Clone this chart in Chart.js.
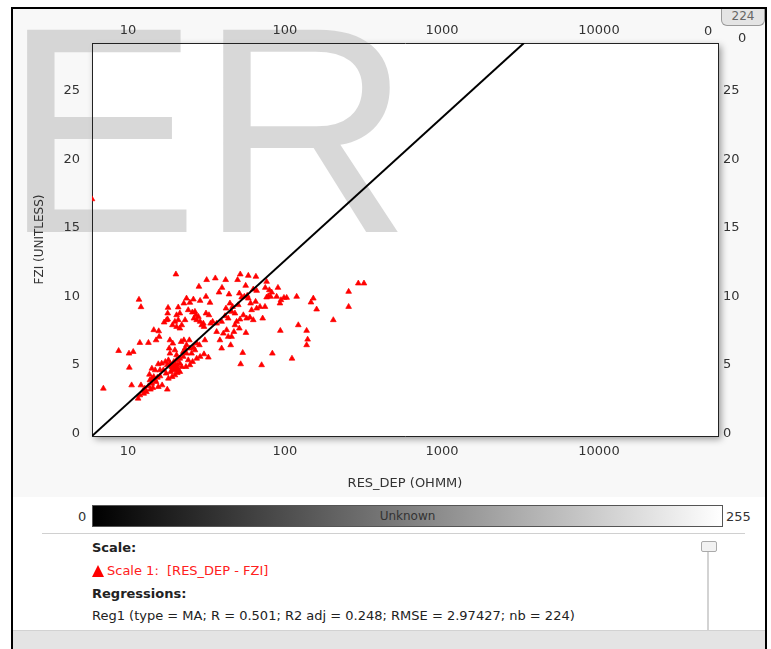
<!DOCTYPE html>
<html>
<head>
<meta charset="utf-8">
<title>RES_DEP - FZI</title>
<script src="https://cdn.jsdelivr.net/npm/chart.js@4/dist/chart.umd.min.js"></script>
<style>
  html, body { margin: 0; padding: 0; }
  body { width: 771px; height: 649px; position: relative; overflow: hidden; background: #fff;
         font-family: "DejaVu Sans", Verdana, sans-serif; color: #222; }
  #chartBox { position: absolute; left: 0; top: 0; width: 771px; height: 497px; }
  #frame { position: absolute; left: 11px; top: 7px; width: 756px; height: 660px; box-sizing: border-box;
           border: 2px solid #000; border-bottom: none; pointer-events: none; }
  .abs { position: absolute; white-space: nowrap; }
  #countTab { left: 721px; top: 8px; width: 44px; height: 18px; box-sizing: border-box; border: 1px solid #9a9a9a;
              border-top: none; border-radius: 0 0 6px 6px; background: #e4e4e4; color: #666; font-size: 12px;
              text-align: center; line-height: 17px; }
  #colorBar { left: 92px; top: 505px; width: 631px; height: 22px; box-sizing: border-box; border: 1px solid #555;
              background: linear-gradient(to right, #000 0%, #fff 100%); color: #333; font-size: 12px;
              text-align: center; line-height: 20px; }
  #sep { left: 42px; top: 533px; width: 703px; height: 1px; background: #d0d0d0; }
  #sliderKnob { left: 701px; top: 541px; width: 16px; height: 11px; box-sizing: border-box; border: 1px solid #aaa;
                border-radius: 2px; background: #f2f2f2; }
  #sliderTrack { left: 707px; top: 552px; width: 2px; height: 78px; background: #d3d3d3; }
  #bottomBand { left: 13px; top: 630px; width: 753px; height: 30px; background: #e4e4e4; border-top: 1px solid #d2d2d2; }
  .head { font-weight: bold; font-size: 13px; color: #222; }
  .tri { width: 0; height: 0; border-left: 6px solid transparent; border-right: 6px solid transparent;
         border-bottom: 12px solid #ff0000; }
</style>
</head>
<body>
<div id="chartBox"><canvas id="chart" width="771" height="497"></canvas></div>

<div class="abs" id="countTab">224</div>
<div class="abs" style="left:704px; top:23px; font-size:13px; color:#333;">0</div>
<div class="abs" style="left:738px; top:30px; font-size:13px; color:#333;">0</div>

<div class="abs" style="left:78px; top:509px; font-size:13px; color:#333;">0</div>
<div class="abs" id="colorBar">Unknown</div>
<div class="abs" style="left:726px; top:509px; font-size:13px; color:#333;">255</div>
<div class="abs" id="sep"></div>
<div class="abs" id="sliderKnob"></div>
<div class="abs" id="sliderTrack"></div>

<div class="abs head" style="left:92px; top:540px;">Scale:</div>
<div class="abs tri" style="left:92px; top:565px;"></div>
<div class="abs" style="left:107px; top:563px; font-size:13px; color:#ff2020;">Scale 1:&nbsp; [RES_DEP - FZI]</div>
<div class="abs head" style="left:92px; top:586px;">Regressions:</div>
<div class="abs" style="left:92px; top:608px; font-size:13px; color:#222;">Reg1 (type = MA; R = 0.501; R2 adj = 0.248; RMSE = 2.97427; nb = 224)</div>
<div class="abs" id="bottomBand"></div>

<div id="frame"></div>

<script>
// RES_DEP (ohmm) vs FZI samples
const resDep = [
  6.97, 8.72, 10.15, 10.8, 10.2, 11.75, 12.1, 11.9, 10.55, 12.1,
  11.6, 11.9, 12.6, 12.8, 12.5, 13.5, 14.6, 15.7, 15.8, 15.1,
  17.0, 17.9, 14.2, 14.9, 15.6, 16.4, 17.3, 13.7, 14.2, 14.9,
  15.4, 16.0, 17.5, 13.5, 13.9, 14.4, 13.1, 16.5, 17.8, 14.2,
  15.1, 14.6, 16.8, 16.0, 13.8, 15.6, 20.2, 18.0, 17.9, 20.9,
  21.4, 20.4, 20.9, 20.4, 21.4, 19.2, 17.6, 19.9, 18.5, 19.3,
  19.9, 21.8, 22.7, 18.3, 18.5, 18.1, 19.0, 20.4, 21.4, 22.5,
  23.4, 19.4, 19.7, 20.1, 19.3, 19.9, 20.4, 20.9, 18.7, 18.1,
  19.1, 19.9, 20.6, 21.4, 17.8, 18.5, 22.0, 21.4, 19.6, 20.4,
  22.7, 23.6, 24.8, 26.1, 28.8, 31.4, 33.3, 24.2, 25.7, 26.7,
  28.1, 28.8, 30.2, 31.4, 32.8, 34.6, 28.3, 31.7, 24.6, 26.1,
  27.4, 24.2, 24.8, 25.8, 27.4, 28.8, 30.5, 32.5, 23.6, 25.4,
  26.7, 28.5, 23.1, 29.5, 27.4, 26.3, 30.5, 33.6, 30.9, 23.6,
  22.5, 24.8, 27.1, 23.1, 22.0, 36.0, 41.9, 49.9, 51.9, 58.4,
  38.0, 39.7, 44.0, 56.2, 51.2, 57.5, 36.7, 39.5, 41.5, 43.5,
  45.7, 48.0, 49.2, 51.7, 54.3, 57.0, 56.4, 59.8, 61.3, 42.1,
  44.6, 46.4, 50.4, 53.0, 55.1, 58.4, 60.4, 38.5, 40.5, 43.5,
  45.7, 47.3, 42.5, 45.1, 39.5, 53.8, 52.2, 48.0, 51.2, 36.7,
  65.3, 62.8, 66.0, 76.4, 74.9, 79.5, 82.3, 78.3, 76.4, 81.0,
  90.2, 88.5, 94.3, 98.5, 92.9, 102.5, 65.0, 66.0, 69.3, 74.6,
  62.8, 72.1, 71.0, 83.1, 110.8, 93.4, 121.6, 137.4, 139.4, 137.4,
  118.7, 151.5, 146.4, 159.1, 203.2, 254.4, 254.4, 293.2, 318.6, 5.9,
  19.4, 19.1, 19.8, 20.6
];
const fzi = [
  3.27, 6.02, 5.83, 5.95, 4.80, 9.76, 9.22, 6.61, 3.51, 3.51,
  2.54, 2.78, 2.90, 3.27, 3.10, 6.61, 7.54, 7.46, 7.05, 6.80,
  8.10, 8.32, 4.73, 4.61, 5.05, 5.10, 5.22, 4.29, 4.00, 3.88,
  4.07, 4.17, 4.37, 3.44, 3.20, 3.32, 3.02, 3.51, 3.20, 3.63,
  3.76, 4.12, 4.61, 4.61, 3.88, 3.39, 11.61, 9.17, 8.76, 9.20,
  8.76, 8.63, 8.27, 7.78, 7.66, 7.90, 8.27, 8.15, 6.80, 6.56,
  6.07, 6.68, 6.80, 6.20, 5.83, 5.34, 4.85, 5.34, 5.10, 5.59,
  4.85, 4.98, 4.85, 4.90, 4.66, 4.73, 4.80, 4.61, 4.49, 4.00,
  4.12, 4.24, 4.41, 4.49, 4.98, 5.10, 4.85, 5.46, 5.22, 5.71,
  9.49, 9.85, 9.54, 9.78, 9.68, 9.98, 9.54, 9.00, 8.83, 8.88,
  8.51, 8.15, 8.02, 8.76, 8.63, 8.15, 10.71, 11.20, 6.80, 6.27,
  6.56, 5.34, 4.98, 5.22, 5.46, 5.59, 5.78, 5.54, 5.83, 5.83,
  6.07, 6.44, 6.20, 7.90, 8.27, 8.39, 7.78, 8.02, 6.80, 6.44,
  5.95, 6.20, 8.63, 8.27, 7.90, 11.32, 11.20, 11.20, 11.61, 11.51,
  10.29, 10.63, 10.15, 10.78, 10.22, 10.05, 8.02, 8.15, 8.56, 8.39,
  8.88, 8.76, 8.15, 8.32, 8.63, 8.39, 7.34, 8.46, 9.00, 9.12,
  9.49, 9.24, 9.37, 9.93, 9.98, 9.85, 9.49, 6.80, 7.29, 7.05,
  7.05, 7.41, 7.54, 6.44, 6.20, 5.88, 5.05, 7.90, 7.66, 7.41,
  11.44, 10.51, 10.41, 11.07, 10.63, 10.46, 10.29, 10.02, 9.93, 9.98,
  10.63, 9.98, 9.73, 9.90, 9.49, 9.90, 9.61, 9.12, 9.24, 9.24,
  8.27, 8.39, 4.98, 5.83, 5.46, 7.49, 7.90, 7.49, 6.85, 6.44,
  9.98, 9.85, 9.56, 9.05, 8.27, 10.34, 9.24, 10.95, 10.95, 17.1,
  4.80, 4.90, 4.61, 4.98
];

// Reg1 (MA) line end points
const regRes = [5.9, 3330];
const regFzi = [-0.2, 28.5];

// axis ticks
const resTicks = [10, 100, 1000, 10000];
const fziTicks = [0, 5, 10, 15, 20, 25];

const resRange = [5.9, 57300];
const fziRange = [-0.2, 28.5];

const points = resDep.map((v, i) => ({ x: v, y: fzi[i] }));
const regLine = regRes.map((v, i) => ({ x: v, y: regFzi[i] }));

const tickFont = { family: 'DejaVu Sans', size: 13 };
const tickColor = '#333';
const frameColor = '#222';

function fixTicks(list) {
  return function (scale) { scale.ticks = list.map(v => ({ value: v })); };
}
function fixSize(prop, size) {
  return function (scale) { scale[prop] = size; };
}

// panel background, plot background with soft shadow, and the "ER" stamp
const backdrop = {
  id: 'backdrop',
  beforeDraw(chart) {
    const { ctx, chartArea: a } = chart;
    ctx.save();
    ctx.fillStyle = '#f8f8f8';
    ctx.fillRect(13, 9, 753, chart.height - 9);
    ctx.shadowColor = 'rgba(0,0,0,0.4)';
    ctx.shadowBlur = 7;
    ctx.shadowOffsetX = 3;
    ctx.shadowOffsetY = 3;
    ctx.fillStyle = '#fff';
    ctx.fillRect(a.left, a.top, a.right - a.left, a.bottom - a.top);
    ctx.restore();

    ctx.save();
    ctx.fillStyle = 'rgba(200,200,200,0.7)';
    ctx.font = '294px "Liberation Sans", Arial, sans-serif';
    ctx.textBaseline = 'alphabetic';
    ctx.fillText('ER', 3, 232);
    ctx.restore();
  }
};

const common = {
  grid: { display: false, drawTicks: false },
  border: { display: true, color: frameColor, width: 1 },
};

new Chart(document.getElementById('chart'), {
  type: 'scatter',
  data: {
    datasets: [
      {
        label: 'Scale 1: [RES_DEP - FZI]',
        data: points,
        pointStyle: 'triangle',
        pointRadius: 3.3,
        pointBorderWidth: 0.7,
        backgroundColor: '#ff0000',
        borderColor: '#ff0000',
        clip: 0,
        order: 2
      },
      {
        label: 'Reg1',
        type: 'line',
        data: regLine,
        borderColor: '#000',
        borderWidth: 2,
        pointRadius: 0,
        fill: false,
        clip: 0,
        order: 1
      }
    ]
  },
  options: {
    responsive: false,
    animation: false,
    events: [],
    layout: { padding: 0 },
    plugins: { legend: { display: false }, tooltip: { enabled: false } },
    scales: {
      x: {
        ...common,
        type: 'logarithmic',
        position: 'bottom',
        min: resRange[0], max: resRange[1],
        afterBuildTicks: fixTicks(resTicks),
        afterFit: fixSize('height', 61),
        ticks: { font: tickFont, color: tickColor, padding: 8, maxRotation: 0, autoSkip: false,
                 callback: v => String(v) },
        title: { display: true, text: 'RES_DEP (OHMM)', font: { family: 'DejaVu Sans', size: 13 },
                 color: tickColor, padding: { top: 0, bottom: 6 } }
      },
      x2: {
        ...common,
        type: 'logarithmic',
        position: 'top',
        min: resRange[0], max: resRange[1],
        afterBuildTicks: fixTicks(resTicks),
        afterFit: fixSize('height', 43),
        ticks: { font: tickFont, color: tickColor, padding: 5, maxRotation: 0, autoSkip: false,
                 callback: v => String(v) }
      },
      y: {
        ...common,
        type: 'linear',
        position: 'left',
        min: fziRange[0], max: fziRange[1],
        afterBuildTicks: fixTicks(fziTicks),
        afterFit: fixSize('width', 92),
        ticks: { font: tickFont, color: tickColor, padding: 12, callback: v => String(v) },
        title: { display: true, text: 'FZI (UNITLESS)', font: { family: 'DejaVu Sans', size: 12 },
                 color: tickColor, padding: { top: 33, bottom: 0 } }
      },
      y2: {
        ...common,
        type: 'linear',
        position: 'right',
        min: fziRange[0], max: fziRange[1],
        afterBuildTicks: fixTicks(fziTicks),
        afterFit: fixSize('width', 53),
        ticks: { font: tickFont, color: tickColor, padding: 5, callback: v => String(v) }
      }
    }
  },
  plugins: [backdrop]
});
</script>
</body>
</html>
